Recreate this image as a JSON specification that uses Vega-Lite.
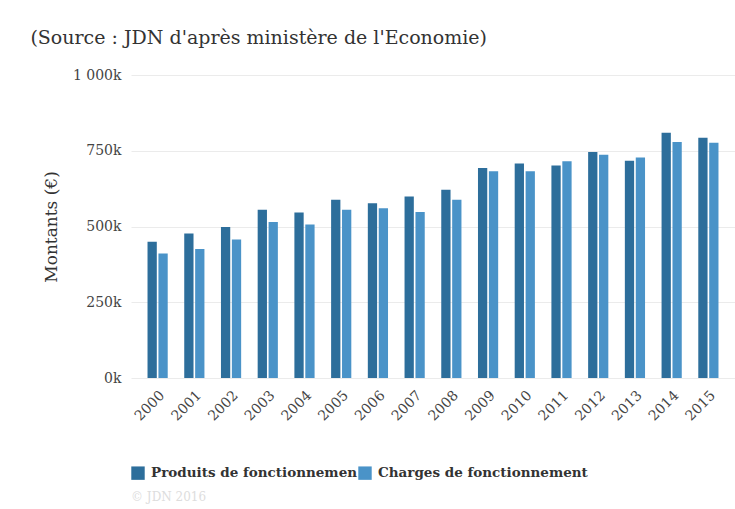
{
  "$schema": "https://vega.github.io/schema/vega-lite/v6.json",
  "width": 735,
  "height": 509,
  "autosize": {"type": "fit", "contains": "padding"},
  "padding": {"left": 30, "top": 29, "right": 0, "bottom": 6},
  "background": "white",
  "title": {
    "text": "(Source : JDN d'après ministère de l'Economie)",
    "anchor": "start",
    "frame": "bounds",
    "font": "DejaVu Serif",
    "fontSize": 19,
    "fontWeight": "normal",
    "color": "#333333",
    "offset": 20,
    "dx": -12
  },
  "data": {
    "values": [
      {"annee": "2000", "serie": "Produits de fonctionnement", "montant": 450000},
      {"annee": "2000", "serie": "Charges de fonctionnement", "montant": 411000},
      {"annee": "2001", "serie": "Produits de fonctionnement", "montant": 477000},
      {"annee": "2001", "serie": "Charges de fonctionnement", "montant": 426000},
      {"annee": "2002", "serie": "Produits de fonctionnement", "montant": 498000},
      {"annee": "2002", "serie": "Charges de fonctionnement", "montant": 457000},
      {"annee": "2003", "serie": "Produits de fonctionnement", "montant": 555000},
      {"annee": "2003", "serie": "Charges de fonctionnement", "montant": 515000},
      {"annee": "2004", "serie": "Produits de fonctionnement", "montant": 546000},
      {"annee": "2004", "serie": "Charges de fonctionnement", "montant": 507000},
      {"annee": "2005", "serie": "Produits de fonctionnement", "montant": 588000},
      {"annee": "2005", "serie": "Charges de fonctionnement", "montant": 555000},
      {"annee": "2006", "serie": "Produits de fonctionnement", "montant": 577000},
      {"annee": "2006", "serie": "Charges de fonctionnement", "montant": 560000},
      {"annee": "2007", "serie": "Produits de fonctionnement", "montant": 599000},
      {"annee": "2007", "serie": "Charges de fonctionnement", "montant": 548000},
      {"annee": "2008", "serie": "Produits de fonctionnement", "montant": 621000},
      {"annee": "2008", "serie": "Charges de fonctionnement", "montant": 588000},
      {"annee": "2009", "serie": "Produits de fonctionnement", "montant": 693000},
      {"annee": "2009", "serie": "Charges de fonctionnement", "montant": 682000},
      {"annee": "2010", "serie": "Produits de fonctionnement", "montant": 708000},
      {"annee": "2010", "serie": "Charges de fonctionnement", "montant": 682000},
      {"annee": "2011", "serie": "Produits de fonctionnement", "montant": 701000},
      {"annee": "2011", "serie": "Charges de fonctionnement", "montant": 715000},
      {"annee": "2012", "serie": "Produits de fonctionnement", "montant": 746000},
      {"annee": "2012", "serie": "Charges de fonctionnement", "montant": 737000},
      {"annee": "2013", "serie": "Produits de fonctionnement", "montant": 717000},
      {"annee": "2013", "serie": "Charges de fonctionnement", "montant": 728000},
      {"annee": "2014", "serie": "Produits de fonctionnement", "montant": 809000},
      {"annee": "2014", "serie": "Charges de fonctionnement", "montant": 779000},
      {"annee": "2015", "serie": "Produits de fonctionnement", "montant": 793000},
      {"annee": "2015", "serie": "Charges de fonctionnement", "montant": 776000}
    ]
  },
  "mark": {"type": "bar"},
  "encoding": {
    "x": {
      "field": "annee",
      "type": "nominal",
      "scale": {"paddingInner": 0.45, "paddingOuter": 0.45},
      "axis": {
        "title": null,
        "labelAngle": -45,
        "labelFont": "DejaVu Serif",
        "labelFontSize": 14,
        "labelColor": "#444444",
        "ticks": false,
        "domain": false,
        "labelPadding": 10
      }
    },
    "xOffset": {
      "field": "serie",
      "type": "nominal",
      "sort": ["Produits de fonctionnement", "Charges de fonctionnement"],
      "scale": {"paddingInner": 0.15}
    },
    "y": {
      "field": "montant",
      "type": "quantitative",
      "scale": {"domain": [0, 1000000], "nice": false},
      "axis": {
        "title": "Montants (€)",
        "titleFont": "DejaVu Serif",
        "titleFontSize": 17,
        "titleFontWeight": "normal",
        "titleColor": "#333333",
        "titlePadding": 12,
        "values": [0, 250000, 500000, 750000, 1000000],
        "labelExpr": "datum.value >= 1000000 ? '1 000k' : format(datum.value / 1000, 'd') + 'k'",
        "labelFont": "DejaVu Serif",
        "labelFontSize": 14,
        "labelColor": "#444444",
        "labelPadding": 10,
        "ticks": false,
        "domain": false,
        "grid": true,
        "gridColor": "#ebebeb"
      }
    },
    "color": {
      "field": "serie",
      "type": "nominal",
      "sort": ["Produits de fonctionnement", "Charges de fonctionnement"],
      "scale": {
        "domain": ["Produits de fonctionnement", "Charges de fonctionnement"],
        "range": ["#2d6e9b", "#4a93c8"]
      },
      "legend": {
        "orient": "bottom",
        "direction": "horizontal",
        "title": "© JDN 2016",
        "titleOrient": "bottom",
        "titleAnchor": "start",
        "titleFont": "DejaVu Serif",
        "titleFontSize": 12,
        "titleFontWeight": "normal",
        "titleColor": "#dddddd",
        "titlePadding": 12,
        "symbolType": "square",
        "symbolSize": 180,
        "symbolStrokeWidth": 0,
        "labelFont": "DejaVu Serif",
        "labelFontSize": 13.5,
        "labelFontWeight": "bold",
        "labelColor": "#333333",
        "labelLimit": 260,
        "labelExpr": "datum.label == 'Produits de fonctionnement' ? 'Produits de fonctionnemen' : datum.label",
        "labelOffset": 6,
        "columnPadding": 0,
        "offset": 42
      }
    }
  },
  "config": {
    "view": {"stroke": null}
  }
}
